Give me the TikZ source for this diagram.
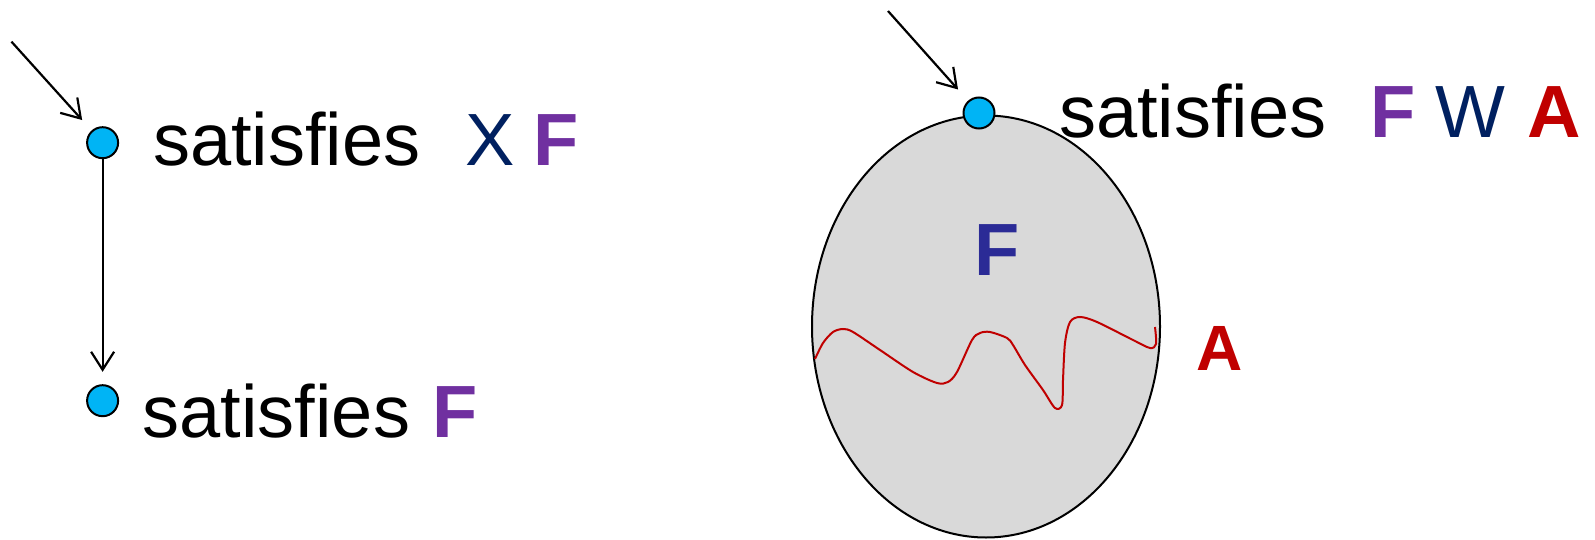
\documentclass[tikz,border=0pt]{standalone}
\usepackage{fontspec}
\setmainfont{Liberation Sans}
\usetikzlibrary{arrows.meta}
\definecolor{navyc}{HTML}{002060}
\definecolor{purp}{HTML}{7030A0}
\definecolor{redc}{HTML}{C00000}
\definecolor{bluef}{HTML}{2B2B96}
\definecolor{cyanc}{HTML}{00B4F5}
\definecolor{greyfill}{HTML}{D9D9D9}
\tikzset{
  state/.style={circle, draw=black, line width=1pt, fill=cyanc, minimum size=15.5pt, inner sep=0pt},
  arr/.style={line width=1.1pt, -{Straight Barb[length=9pt, width=11.5pt, line width=1.1pt]}},
  lbl/.style={anchor=base west, inner sep=0pt, font=\fontsize{37}{44}\selectfont},
  biglbl/.style={anchor=base west, inner sep=0pt, font=\fontsize{37}{44}\selectfont\bfseries},
  alabel/.style={anchor=base west, inner sep=0pt, font=\fontsize{32}{38}\selectfont\bfseries}
}
\begin{document}
\begin{tikzpicture}[x=0.5pt, y=-0.5pt]
\useasboundingbox (0,0) rectangle (1595,540);
% left diagram
\node[state] (c1) at (102.6,142.7) {};
\node[state] (c2) at (102.6,400.7) {};
\coordinate (s1) at (11.5,41.7);
\draw[arr, shorten >=7pt] (s1) -- (c1);
\draw[arr, shorten >=6.2pt] (c1) -- (c2);
\node[lbl] (t1) at (152.7,165) {satisfies\hspace{22.3pt}{\color{navyc}X}\hspace{9.7pt}{\bfseries\color{purp}F}};
\node[lbl] (t2) at (142.4,437) {satisfies\hspace{11.4pt}{\bfseries\color{purp}F}};
% right diagram
\draw[line width=1pt, fill=greyfill] (986,326.5) ellipse [x radius=87pt, y radius=105.5pt];
\draw[redc, line width=1pt] plot[smooth, tension=0.5] coordinates {
 (815,359) (823,343) (833,332) (843,329) (853,332) (880,350) (913,372) (937,383)
 (948,382) (957,372) (972,340) (980,333) (990,332) (1007,338) (1013,345) (1025,365)
 (1043,390) (1055,408) (1062,405) (1063,380) (1065,343) (1070,322) (1080,317)
 (1097,322) (1133,340) (1150,348) (1156,344) (1155,327)};
\node[state] (c3) at (979,113) {};
\coordinate (s3) at (888,11);
\draw[arr, shorten >=7.5pt] (s3) -- (c3);
\node[lbl] (t3) at (1058.7,138) {satisfies\hspace{21.8pt}{\bfseries\color{purp}F}\hspace{10pt}{\color{navyc}W}\hspace{11pt}{\bfseries\color{redc}A}};
\node[biglbl, text=bluef] (fin) at (973.6,275) {F};
\node[alabel, text=redc] (aout) at (1196,370) {A};
\end{tikzpicture}
\end{document}
